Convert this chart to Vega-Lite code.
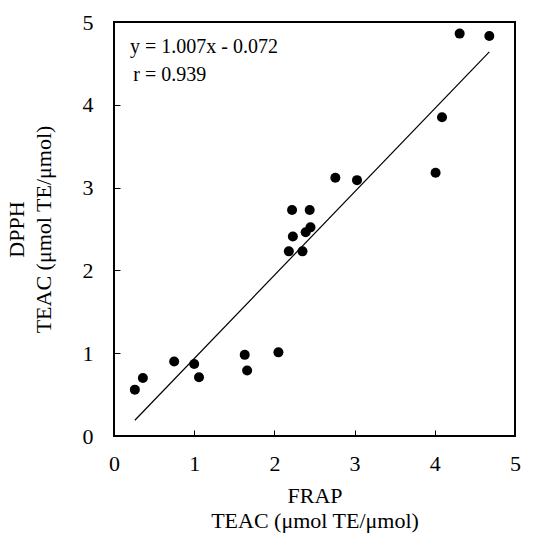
{
  "$schema": "https://vega.github.io/schema/vega-lite/v6.json",
  "autosize": "none",
  "width": 401,
  "height": 414,
  "padding": {"left": 114, "top": 22, "right": 27, "bottom": 97},
  "background": "white",
  "config": {
    "view": {"stroke": "black", "strokeWidth": 2},
    "font": "Liberation Serif",
    "axis": {
      "domain": false,
      "grid": false,
      "ticks": true,
      "tickColor": "black",
      "tickSize": -6,
      "tickWidth": 1,
      "labelFlush": false,
      "format": "d",
      "labelFont": "Liberation Serif",
      "labelFontSize": 22,
      "labelColor": "black",
      "titleFont": "Liberation Serif",
      "titleFontSize": 22,
      "titleFontWeight": "normal",
      "titleColor": "black"
    }
  },
  "datasets": {
    "pts": [
      {"FRAP": 4.31, "DPPH": 4.86},
      {"FRAP": 4.68, "DPPH": 4.83},
      {"FRAP": 4.09, "DPPH": 3.85},
      {"FRAP": 4.01, "DPPH": 3.18},
      {"FRAP": 2.76, "DPPH": 3.12},
      {"FRAP": 3.03, "DPPH": 3.09},
      {"FRAP": 2.22, "DPPH": 2.73},
      {"FRAP": 2.44, "DPPH": 2.73},
      {"FRAP": 2.23, "DPPH": 2.41},
      {"FRAP": 2.39, "DPPH": 2.46},
      {"FRAP": 2.45, "DPPH": 2.52},
      {"FRAP": 2.18, "DPPH": 2.23},
      {"FRAP": 2.35, "DPPH": 2.23},
      {"FRAP": 2.05, "DPPH": 1.01},
      {"FRAP": 1.63, "DPPH": 0.98},
      {"FRAP": 1.66, "DPPH": 0.79},
      {"FRAP": 0.75, "DPPH": 0.90},
      {"FRAP": 1.00, "DPPH": 0.87},
      {"FRAP": 1.06, "DPPH": 0.71},
      {"FRAP": 0.36, "DPPH": 0.70},
      {"FRAP": 0.26, "DPPH": 0.56}
    ],
    "fit": [
      {"FRAP": 0.26, "DPPH": 0.19},
      {"FRAP": 4.68, "DPPH": 4.64}
    ],
    "notes": [
      {"FRAP": 0.2, "DPPH": 4.70, "label": "y = 1.007x - 0.072"},
      {"FRAP": 0.24, "DPPH": 4.36, "label": "r = 0.939"}
    ]
  },
  "layer": [
    {
      "data": {"name": "fit"},
      "mark": {"type": "line", "color": "black", "strokeWidth": 1.2},
      "encoding": {
        "x": {
          "field": "FRAP", "type": "quantitative",
          "scale": {"domain": [0, 5], "nice": false},
          "axis": {"values": [0, 1, 2, 3, 4, 5], "labelPadding": 23, "title": ["FRAP", "TEAC  (μmol TE/μmol)"], "titlePadding": 11, "titleLineHeight": 25}
        },
        "y": {
          "field": "DPPH", "type": "quantitative",
          "scale": {"domain": [0, 5], "nice": false},
          "axis": {"values": [0, 1, 2, 3, 4, 5], "labelPadding": 27, "title": ["DPPH", "TEAC (μmol TE/μmol)"], "titlePadding": 27, "titleLineHeight": 27}
        }
      }
    },
    {
      "data": {"name": "pts"},
      "mark": {"type": "point", "filled": true, "color": "black", "size": 100, "opacity": 1},
      "encoding": {
        "x": {"field": "FRAP", "type": "quantitative"},
        "y": {"field": "DPPH", "type": "quantitative"}
      }
    },
    {
      "data": {"name": "notes"},
      "mark": {"type": "text", "align": "left", "baseline": "middle", "font": "Liberation Serif", "fontSize": 20, "color": "black"},
      "encoding": {
        "x": {"field": "FRAP", "type": "quantitative"},
        "y": {"field": "DPPH", "type": "quantitative"},
        "text": {"field": "label"}
      }
    }
  ]
}
